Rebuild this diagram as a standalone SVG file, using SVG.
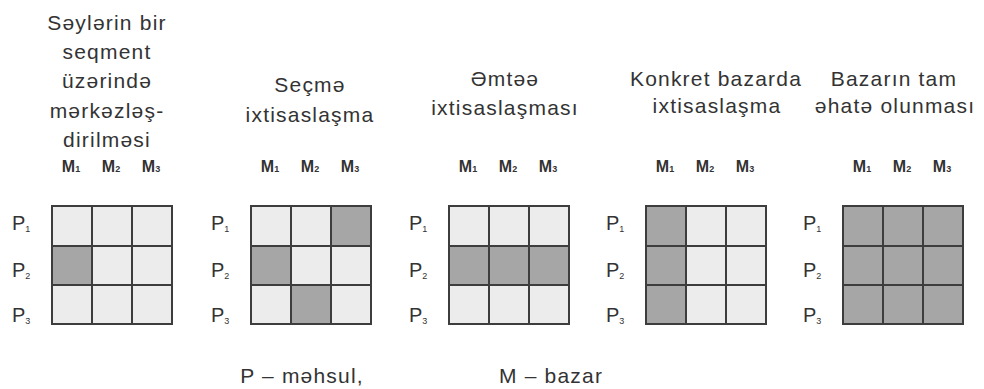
<svg xmlns="http://www.w3.org/2000/svg" width="984" height="389" viewBox="0 0 984 389">
  <style>
    .title { font-family: "Liberation Sans", Arial, sans-serif; font-size: 21px; letter-spacing: 1.2px; fill: #333; text-anchor: middle; }
    .m { font-family: "Liberation Sans", Arial, sans-serif; font-size: 16px; font-weight: bold; fill: #333; text-anchor: middle; }
    .p { font-family: "Liberation Sans", Arial, sans-serif; font-size: 20px; fill: #333; }
    .sub { font-size: 9px; }
    .lt { fill: #ececec; }
    .dk { fill: #a6a6a6; }
    .grid { fill: none; stroke: #3d3d3d; stroke-width: 2; }
  </style>
  <defs>
    <!-- 3x3 matrix lines, 120 wide -->
    <g id="lines">
      <rect class="grid" x="0" y="0" width="120" height="118"/>
      <path class="grid" d="M40 0V118M80 0V118M0 40H120M0 79H120"/>
    </g>
    <!-- row labels P1..P3, relative to grid origin -->
    <g id="plabels">
      <text class="p" x="-40" y="24">P<tspan class="sub" dy="2">1</tspan></text>
      <text class="p" x="-40" y="71">P<tspan class="sub" dy="2">2</tspan></text>
      <text class="p" x="-40" y="116">P<tspan class="sub" dy="2">3</tspan></text>
    </g>
    <!-- column labels M1..M3, relative to grid origin -->
    <g id="mlabels">
      <text class="m" x="19" y="-34">M<tspan class="sub">1</tspan></text>
      <text class="m" x="59" y="-34">M<tspan class="sub">2</tspan></text>
      <text class="m" x="99" y="-34">M<tspan class="sub">3</tspan></text>
    </g>
  </defs>

  <!-- 1: concentration on a single segment -->
  <g id="segment-concentration">
    <text class="title" x="107" y="30">Səylərin bir</text>
    <text class="title" x="107" y="59">seqment</text>
    <text class="title" x="107" y="88">üzərində</text>
    <text class="title" x="107" y="118">mərkəzləş-</text>
    <text class="title" x="107" y="147">dirilməsi</text>
    <g transform="translate(52,206)">
      <rect class="lt" x="0" y="0" width="120" height="118"/>
      <rect class="dk" x="0" y="40" width="40" height="39"/>
      <use href="#lines"/>
      <use href="#plabels"/>
      <use href="#mlabels"/>
    </g>
  </g>

  <!-- 2: selective specialization -->
  <g id="selective-specialization">
    <text class="title" x="310" y="92">Seçmə</text>
    <text class="title" x="310" y="122">ixtisaslaşma</text>
    <g transform="translate(251,206)">
      <rect class="lt" x="0" y="0" width="120" height="118"/>
      <rect class="dk" x="80" y="0" width="40" height="40"/>
      <rect class="dk" x="0" y="40" width="40" height="39"/>
      <rect class="dk" x="40" y="79" width="40" height="39"/>
      <use href="#lines"/>
      <use href="#plabels"/>
      <use href="#mlabels"/>
    </g>
  </g>

  <!-- 3: product specialization -->
  <g id="product-specialization">
    <text class="title" x="505" y="86">Əmtəə</text>
    <text class="title" x="505" y="115">ixtisaslaşması</text>
    <g transform="translate(449,206)">
      <rect class="lt" x="0" y="0" width="120" height="118"/>
      <rect class="dk" x="0" y="40" width="120" height="39"/>
      <use href="#lines"/>
      <use href="#plabels"/>
      <use href="#mlabels"/>
    </g>
  </g>

  <!-- 4: market specialization -->
  <g id="market-specialization">
    <text class="title" x="716" y="86">Konkret bazarda</text>
    <text class="title" x="717" y="113">ixtisaslaşma</text>
    <g transform="translate(646,206)">
      <rect class="lt" x="0" y="0" width="120" height="118"/>
      <rect class="dk" x="0" y="0" width="40" height="118"/>
      <use href="#lines"/>
      <use href="#plabels"/>
      <use href="#mlabels"/>
    </g>
  </g>

  <!-- 5: full market coverage -->
  <g id="full-coverage">
    <text class="title" x="894" y="86">Bazarın tam</text>
    <text class="title" x="895" y="113">əhatə olunması</text>
    <g transform="translate(843,206)">
      <rect class="dk" x="0" y="0" width="120" height="118"/>
      <use href="#lines"/>
      <use href="#plabels"/>
      <use href="#mlabels"/>
    </g>
  </g>

  <!-- legend -->
  <g id="legend">
    <text class="title" x="302" y="383">P – məhsul,</text>
    <text class="title" x="551" y="383">M – bazar</text>
  </g>
</svg>
